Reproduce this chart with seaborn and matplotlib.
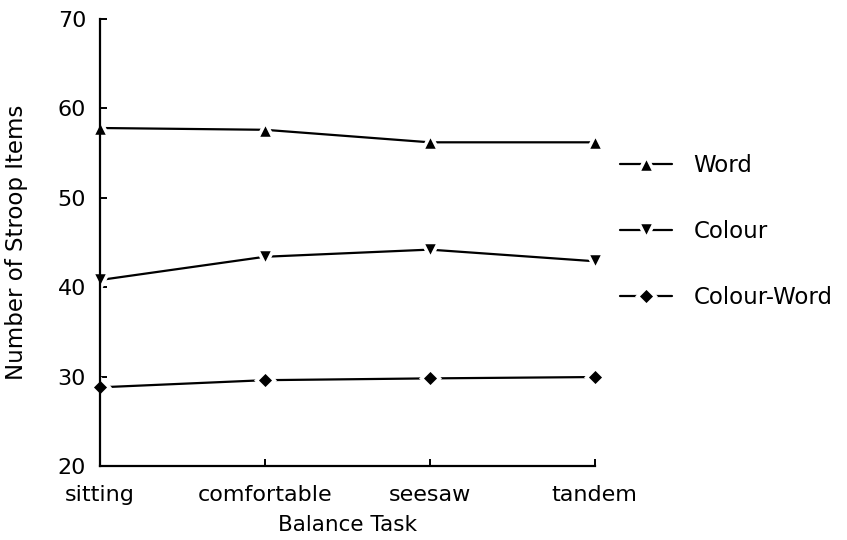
import matplotlib
matplotlib.use("Agg")
import matplotlib.pyplot as plt
from matplotlib.lines import Line2D
import seaborn as sns
import pandas as pd

tasks = ["sitting", "comfortable", "seesaw", "tandem"]
word = [57.8, 57.6, 56.2, 56.2]
colour = [40.8, 43.4, 44.2, 42.9]
colour_word = [28.8, 29.6, 29.8, 29.95]
series_names = ["Word", "Colour", "Colour-Word"]
yticks = [20, 30, 40, 50, 60, 70]

rows = []
for name, vals in zip(series_names, [word, colour, colour_word]):
    for i, v in enumerate(vals):
        rows.append({"task": i, "value": v, "series": name})
df = pd.DataFrame(rows)

sns.set_style("white")
plt.rcParams['font.family'] = ['DejaVu Sans']
plt.rcParams['text.color'] = 'black'
plt.rcParams['axes.labelcolor'] = 'black'
plt.rcParams['xtick.direction'] = 'in'
plt.rcParams['ytick.direction'] = 'in'
plt.rcParams['xtick.bottom'] = True
plt.rcParams['ytick.left'] = True

FS_TICK = 16
FS_LAB = 15.5
FS_LEG = 16.5
markers = {"Word": "^", "Colour": "v", "Colour-Word": "D"}
msizes = {"Word": 12, "Colour": 12, "Colour-Word": 9.5}

fig = plt.figure(figsize=(8.47, 5.4), dpi=100)
ax = fig.add_axes([0.118, 0.137, 0.584, 0.828])

sns.lineplot(data=df, x="task", y="value", hue="series", style="series",
             hue_order=series_names, style_order=series_names,
             palette=["black"] * 3, markers=markers,
             dashes=False, linewidth=1.6, markersize=12,
             markeredgecolor="white", markeredgewidth=2.5, ax=ax, clip_on=False,
             legend=False)

for line in ax.get_lines():
    if line.get_marker() == "D":
        line.set_markersize(9.5)

ax.set_xlim(0, 3)
ax.set_ylim(20, 70)
ax.set_xticks(range(len(tasks)))
ax.set_xticklabels(tasks)
ax.set_yticks(yticks)
for s in ["top", "right"]:
    ax.spines[s].set_visible(False)
for s in ["left", "bottom"]:
    ax.spines[s].set_linewidth(1.6)
    ax.spines[s].set_color("black")
ax.tick_params(axis="both", which="major", direction="in", length=5, width=1.4,
               colors="black", bottom=True, left=True)
ax.tick_params(axis="y", pad=10, labelsize=FS_TICK)
ax.tick_params(axis="x", pad=14, labelsize=FS_TICK)
ax.set_xlabel("Balance Task", fontsize=FS_LAB, labelpad=7)
ax.set_ylabel("Number of Stroop Items", fontsize=FS_LEG, labelpad=21)

handles = [Line2D([], [], color="black", linewidth=1.6, marker=markers[n],
                  markersize=msizes[n], markeredgecolor="white",
                  markeredgewidth=2.5) for n in series_names]
ax.legend(handles, series_names, loc="center left", bbox_to_anchor=(1.01, 0.525),
          frameon=False, fontsize=FS_LEG, handlelength=2.25, handletextpad=0.95,
          labelspacing=1.88)

fig.savefig("out.png", dpi=100)
